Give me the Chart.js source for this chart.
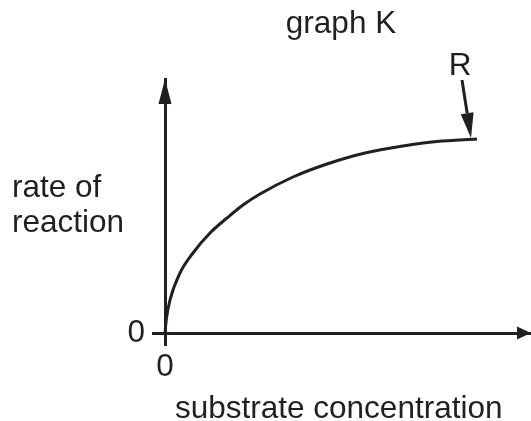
<!DOCTYPE html>
<html>
<head>
<meta charset="utf-8">
<script src="https://cdn.jsdelivr.net/npm/chart.js@4"></script>
<style>
html,body{margin:0;padding:0;background:#fff;}
#c{display:block;}
</style>
</head>
<body>
<canvas id="c" width="531" height="421"></canvas>
<script>
// Data (x in axis units, y in axis units)
const substrate = [0, 1.5, 5, 15, 28, 45, 62, 78, 95, 128, 162, 200, 238, 272, 312];
const rate      = [0, 15, 33, 60, 80, 100, 115, 128, 139, 156, 169, 180, 187, 191.5, 194];
const xTickLabels = ['0'];
const yTickLabels = ['0'];
const chartTitle = 'graph K';
const xTitle = 'substrate concentration';
const yTitleLines = ['rate of', 'reaction'];
const curveLabel = 'R';

const INK = '#231f20';
const FONT = 'Liberation Sans, Arial, sans-serif';
const FS = 31.5;
const X_MAX = 366, Y_MAX = 254;

const points = substrate.map((x, i) => ({x: x, y: rate[i]}));

const decor = {
  id: 'decor',
  afterDraw(chart) {
    const ctx = chart.ctx;
    const xs = chart.scales.x, ys = chart.scales.y;
    const ox = xs.getPixelForValue(0), oy = ys.getPixelForValue(0);
    const topY = ys.getPixelForValue(Y_MAX), rightX = xs.getPixelForValue(X_MAX);
    ctx.save();
    ctx.fillStyle = INK;
    ctx.strokeStyle = INK;
    // y-axis arrowhead
    ctx.beginPath();
    ctx.moveTo(ox, topY);
    ctx.lineTo(ox - 6.5, topY + 25);
    ctx.lineTo(ox + 6.5, topY + 25);
    ctx.closePath();
    ctx.fill();
    // x-axis arrowhead
    ctx.beginPath();
    ctx.moveTo(rightX, oy);
    ctx.lineTo(rightX - 14, oy - 6.5);
    ctx.lineTo(rightX - 14, oy + 6.5);
    ctx.closePath();
    ctx.fill();
    // R label arrow
    const tx = xs.getPixelForValue(306), ty = ys.getPixelForValue(194) - 1;
    const sx = xs.getPixelForValue(297), sy = ys.getPixelForValue(253);
    const ang = Math.atan2(ty - sy, tx - sx);
    const hl = 25, hw = 6.5;
    const bx = tx - hl * Math.cos(ang), by = ty - hl * Math.sin(ang);
    ctx.lineWidth = 3;
    ctx.beginPath();
    ctx.moveTo(sx, sy);
    ctx.lineTo(bx, by);
    ctx.stroke();
    ctx.beginPath();
    ctx.moveTo(tx, ty);
    ctx.lineTo(bx + hw * Math.sin(ang), by - hw * Math.cos(ang));
    ctx.lineTo(bx - hw * Math.sin(ang), by + hw * Math.cos(ang));
    ctx.closePath();
    ctx.fill();
    // texts
    ctx.font = FS + 'px ' + FONT;
    ctx.textBaseline = 'alphabetic';
    ctx.textAlign = 'center';
    ctx.fillText(chartTitle, 341, 33);
    ctx.fillText(curveLabel, xs.getPixelForValue(295), 75);
    ctx.textAlign = 'left';
    ctx.fillText(yTitleLines[0], 12, 197);
    ctx.fillText(yTitleLines[1], 12, 232);
    ctx.fillText(xTitle, 175, 418);
    ctx.restore();
  }
};

new Chart(document.getElementById('c'), {
  type: 'line',
  data: {
    datasets: [{
      data: points,
      borderColor: INK,
      borderWidth: 3,
      pointRadius: 0,
      fill: false,
      cubicInterpolationMode: 'monotone',
      clip: false
    }]
  },
  options: {
    responsive: false,
    animation: false,
    devicePixelRatio: 1,
    layout: {padding: {left: 0, right: 0, top: 79, bottom: 0}},
    plugins: {legend: {display: false}, tooltip: {enabled: false}, title: {display: false}},
    scales: {
      x: {
        type: 'linear',
        min: 0, max: X_MAX,
        afterFit: s => { s.height = 88; },
        afterBuildTicks: s => { s.ticks = xTickLabels.map(() => ({value: 0})); },
        border: {display: true, color: INK, width: 3},
        grid: {display: true, drawOnChartArea: false, drawTicks: true, tickLength: 13, tickWidth: 3, tickColor: INK, color: INK},
        ticks: {color: INK, font: {family: FONT, size: FS}, padding: 2, maxRotation: 0, callback: (v, i) => xTickLabels[i]}
      },
      y: {
        min: 0, max: Y_MAX,
        afterFit: s => { s.width = 165; },
        afterBuildTicks: s => { s.ticks = yTickLabels.map(() => ({value: 0})); },
        border: {display: true, color: INK, width: 3},
        grid: {display: true, drawOnChartArea: false, drawTicks: true, tickLength: 13, tickWidth: 3, tickColor: INK, color: INK},
        ticks: {color: INK, font: {family: FONT, size: FS}, padding: 7, callback: (v, i) => yTickLabels[i]}
      }
    }
  },
  plugins: [decor]
});
</script>
</body>
</html>
